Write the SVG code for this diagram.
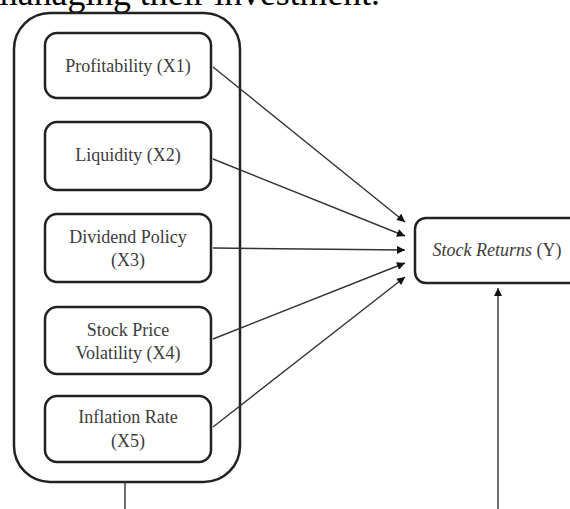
<svg xmlns="http://www.w3.org/2000/svg" width="570" height="509" viewBox="0 0 570 509">
<style>
.box{fill:#fff;stroke:#222;stroke-width:2.5}
.lbl{font-family:"Liberation Serif","Times New Roman",serif;font-size:18px;fill:#3c3c3c;text-anchor:middle}
.ln{stroke:#333;stroke-width:1.4;fill:none}
</style>
<defs>
<marker id="ah" viewBox="0 0 10 10" refX="10" refY="5" markerWidth="10" markerHeight="8" markerUnits="userSpaceOnUse" orient="auto">
<path d="M0,0 L10,5 L0,10 z" fill="#111"/>
</marker>
</defs>
<rect width="570" height="509" fill="#fff"/>
<text x="-10" y="5" font-family="Liberation Serif, Times New Roman, serif" font-size="35" fill="#000" textLength="390" lengthAdjust="spacingAndGlyphs">managing their investment.</text>
<g id="group-x">
<rect class="box" x="14" y="13" width="226" height="469" rx="36"/>
</g>
<g id="x1"><rect class="box" x="45" y="33" width="166" height="65" rx="12"/><text class="lbl" x="128" y="72">Profitability (X1)</text></g>
<g id="x2"><rect class="box" x="45" y="122" width="166" height="68" rx="12"/><text class="lbl" x="128" y="161">Liquidity (X2)</text></g>
<g id="x3"><rect class="box" x="45" y="214" width="166" height="68" rx="12"/><text class="lbl" x="128" y="243">Dividend Policy</text><text class="lbl" x="128" y="266">(X3)</text></g>
<g id="x4"><rect class="box" x="45" y="307" width="166" height="67" rx="12"/><text class="lbl" x="128" y="336">Stock Price</text><text class="lbl" x="128" y="359">Volatility (X4)</text></g>
<g id="x5"><rect class="box" x="45" y="396" width="166" height="66" rx="12"/><text class="lbl" x="128" y="423">Inflation Rate</text><text class="lbl" x="128" y="447">(X5)</text></g>
<g id="y"><rect class="box" x="415" y="218" width="175" height="65" rx="11"/><text class="lbl" x="497" y="256"><tspan font-style="italic">Stock Returns</tspan> (Y)</text></g>
<g id="connectors">
<line class="ln" x1="213" y1="67" x2="405" y2="222" marker-end="url(#ah)"/>
<line class="ln" x1="213" y1="159" x2="405" y2="236" marker-end="url(#ah)"/>
<line class="ln" x1="213" y1="248" x2="405" y2="250" marker-end="url(#ah)"/>
<line class="ln" x1="213" y1="339" x2="405" y2="263" marker-end="url(#ah)"/>
<line class="ln" x1="213" y1="427" x2="405" y2="277" marker-end="url(#ah)"/>
<line class="ln" x1="498" y1="509" x2="498" y2="288" marker-end="url(#ah)"/>
<line class="ln" x1="125" y1="482" x2="125" y2="509"/>
</g>
</svg>
